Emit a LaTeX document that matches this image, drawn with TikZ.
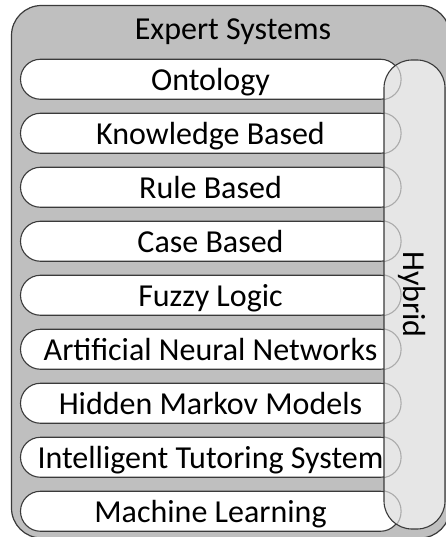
\documentclass[tikz,border=0pt]{standalone}
\usepackage{fontspec}
\setmainfont{Carlito}
\definecolor{outerfill}{HTML}{BFBFBF}
\definecolor{hybfill}{HTML}{E6E6E6}
\definecolor{darkline}{HTML}{3A3A3A}
\definecolor{lightline}{HTML}{ABABAB}
\tikzset{
  outerbox/.style={fill=outerfill, draw=darkline, line width=1.2pt, rounded corners=30pt},
  pill/.style={draw=darkline, fill=white, line width=1.1pt, rounded corners=20pt,
    minimum width=380pt, minimum height=40pt, inner sep=0pt,
    text height=22pt, text depth=0pt, font=\fontsize{32}{38}\selectfont},
  pillghost/.style={draw=lightline, line width=1.1pt, rounded corners=20pt},
  hybbox/.style={rounded corners=28pt},
  label/.style={inner sep=0pt, font=\fontsize{32}{38}\selectfont}
}
\begin{document}
\begin{tikzpicture}[x=1pt,y=-1pt]
\useasboundingbox (0,0) rectangle (446,537);
\draw[outerbox] (11.5,5.5) rectangle (450,538);
\node[label, anchor=base] (title) at (233,39.5) {Expert Systems};
\foreach \t [count=\i] in {Ontology, Knowledge Based, Rule Based, Case Based, Fuzzy Logic, Artificial Neural Networks, Hidden Markov Models, Intelligent Tutoring System, Machine Learning}
  \node[pill] (p\i) at (210.5,{79.25+54*(\i-1)}) {\t};
\path[hybbox, fill=hybfill] (384,60) rectangle (445,529);
\begin{scope}
  \clip[hybbox] (384,60) rectangle (445,529);
  \foreach \i in {1,...,9}
    \draw[pillghost] (p\i.south west) rectangle (p\i.north east);
\end{scope}
\draw[hybbox, draw=darkline, line width=1.1pt] (384,60) rectangle (445,529);
\node[label, rotate=-90, text height=22pt, text depth=0pt] (hybrid) at (414,294.5) {Hybrid};
\end{tikzpicture}
\end{document}
